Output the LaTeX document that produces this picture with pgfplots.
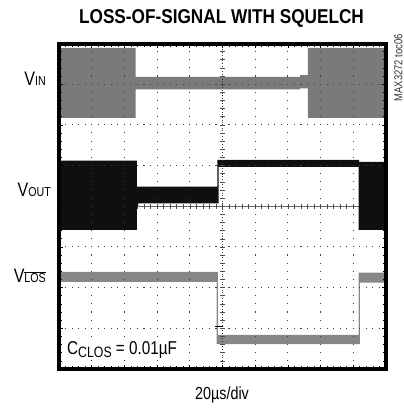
\documentclass[border=0pt]{standalone}
\usepackage{fontspec}
\setmainfont{Liberation Sans}
\newfontfamily\cf[FakeStretch=0.82]{Liberation Sans}
\newfontfamily\cfb[FakeStretch=0.86]{Liberation Sans}
\usepackage{pgfplots}
\pgfplotsset{compat=1.18}
\definecolor{ingray}{gray}{0.48}
\definecolor{losgray}{gray}{0.53}
\definecolor{outblack}{gray}{0.06}
\begin{document}
\begin{tikzpicture}
\useasboundingbox (0,0) rectangle (404bp,409bp);
\begin{axis}[
  at={(59bp,40bp)}, anchor=south west,
  scale only axis, width=327bp, height=325.5bp,
  xmin=0, xmax=10, ymin=0, ymax=8,
  xtick={0,...,10}, ytick={0,...,8},
  minor x tick num=4, minor y tick num=4,
  xticklabels={}, yticklabels={},
  tick align=inside,
  major tick length=4bp, minor tick length=3bp,
  every tick/.style={black, line width=0.7bp},
  axis line style={line width=4bp, black},
  axis on top,
]
\pgfplotsextra{
  \draw[black!60, line width=0.7bp] (axis cs:0,4) -- (axis cs:10,4);
  \foreach \k in {1,...,49} {
    \pgfmathsetmacro{\xx}{\k/5}
    \draw[black!70, line width=0.6bp] (axis cs:\xx,4) ++(0,-2.5bp) -- ++(0,5bp);
  }
}
% V_IN
\addplot[fill=ingray, draw=none, mark=none] coordinates {
 (0,7.89) (2.34,7.89) (2.34,7.18) (7.37,7.18) (7.37,7.22) (7.61,7.22) (7.61,7.89) (10,7.89)
 (10,6.17) (7.61,6.17) (7.61,6.90) (7.37,6.90) (7.37,6.87) (2.34,6.87) (2.34,6.17) (0,6.17)} -- cycle;
% V_OUT
\addplot[fill=outblack, draw=none, mark=none] coordinates {
 (0,5.12) (2.38,5.12) (2.38,4.48) (4.84,4.48) (4.84,5.14) (9.18,5.14) (9.18,5.09) (10,5.09)
 (10,3.42) (9.16,3.42) (9.16,4.97) (4.88,4.97) (4.88,4.07) (2.42,4.07) (2.42,4.00) (2.38,4.00) (2.38,3.42) (0,3.42)} -- cycle;
% V_LOS
\addplot[fill=losgray, draw=none, mark=none] coordinates {
 (0,2.39) (4.86,2.39) (4.86,0.84) (9.16,0.84) (9.16,2.37) (10,2.37)
 (10,2.12) (9.20,2.12) (9.20,0.61) (4.82,0.61) (4.82,2.14) (0,2.14)} -- cycle;
\pgfplotsextra{
  \foreach \i in {1,2,3,4,6,7,8,9} {
    \draw[black!75, line width=1.1bp, dash pattern=on 1.1bp off 7.04bp, dash phase=0.55bp]
      (axis cs:\i,0) -- (axis cs:\i,8);
  }
  \foreach \j in {1,2,3,5,6,7} {
    \draw[black!75, line width=1.1bp, dash pattern=on 1.1bp off 5.44bp, dash phase=0.55bp]
      (axis cs:0,\j) -- (axis cs:10,\j);
  }
  \draw[black!80, line width=0.8bp, dash pattern=on 1bp off 1.7bp] (axis cs:5,0) -- (axis cs:5,8);
  \foreach \k in {1,...,39} {
    \pgfmathsetmacro{\yy}{\k/5}
    \draw[black!70, line width=0.6bp] (axis cs:5,\yy) ++(-2.5bp,0) -- ++(5bp,0);
  }
  \draw[black, line width=1bp] (axis cs:4.78,1.04) -- (axis cs:5.0,1.04);
}
\end{axis}
\node[anchor=base, inner sep=0] at (221.5bp,385.7bp)
  {\cfb\bfseries\fontsize{20bp}{21bp}\selectfont LOSS-OF-SIGNAL WITH SQUELCH};
\node[anchor=base east, inner sep=0] at (46bp,323bp)
  {\cf\fontsize{19.5bp}{20bp}\selectfont V{\fontsize{13bp}{14bp}\selectfont IN}};
\node[anchor=base east, inner sep=0] at (51bp,212.5bp)
  {\cf\fontsize{19.5bp}{20bp}\selectfont V{\fontsize{13bp}{14bp}\selectfont OUT}};
\node[anchor=base east, inner sep=0] at (46bp,126.3bp)
  {\cf\fontsize{19.5bp}{20bp}\selectfont V{\fontsize{13bp}{14bp}\selectfont$\overline{\mbox{LOS}}$}};
\node[anchor=base west, fill=white, inner sep=1bp] at (66bp,54bp)
  {\cf\fontsize{18.6bp}{19bp}\selectfont C\raisebox{-2.3bp}{\fontsize{15bp}{16bp}\selectfont CLOS} = 0.01µF};
\node[anchor=base, inner sep=0] at (222bp,10bp)
  {\cf\fontsize{17.5bp}{18bp}\selectfont 20µs/div};
\node[rotate=90, anchor=east, inner sep=0, text=black!80] at (398.5bp,375bp)
  {\cf\fontsize{11.5bp}{12bp}\selectfont MAX3272 toc06};
\end{tikzpicture}
\end{document}
